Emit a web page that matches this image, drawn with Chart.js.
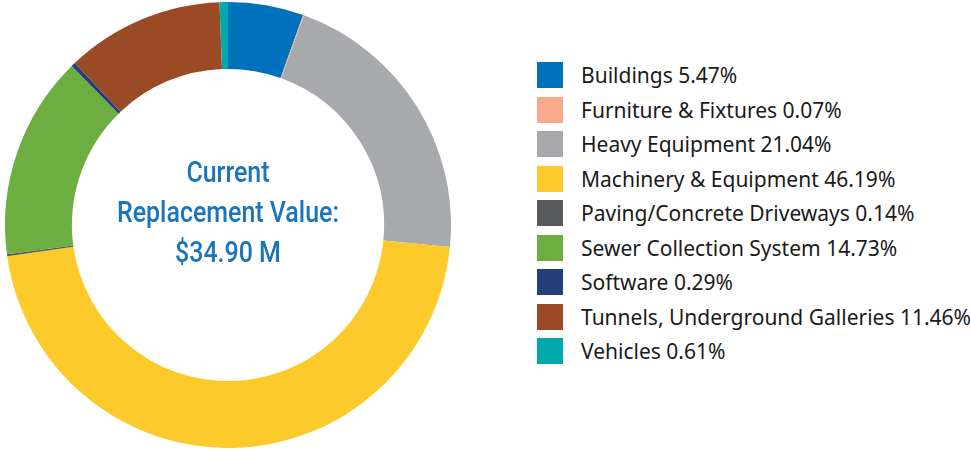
<!DOCTYPE html>
<html>
<head>
<meta charset="utf-8">
<script src="https://cdn.jsdelivr.net/npm/chart.js@4.4.1/dist/chart.umd.min.js"></script>
<style>
  html, body { margin: 0; padding: 0; background: #fff; }
  body { width: 971px; height: 449px; position: relative; overflow: hidden; }
  #wrap { position: absolute; left: 0; top: 0; width: 456px; height: 449px; }
  #legend { position: absolute; left: 537px; top: 62px; margin: 0; padding: 0; list-style: none;
            font-family: "Noto Sans", "Open Sans", sans-serif; font-size: 21px; color: #1a1a1a; }
  #legend li { height: 26px; margin-bottom: 8.5px; display: flex; align-items: center; white-space: nowrap; }
  #legend .box { width: 26px; height: 26px; margin-right: 18px; flex: none; }
</style>
</head>
<body>
<div id="wrap"><canvas id="chart"></canvas></div>
<ul id="legend"></ul>
<script>
const categories = ['Buildings', 'Furniture & Fixtures', 'Heavy Equipment', 'Machinery & Equipment',
  'Paving/Concrete Driveways', 'Sewer Collection System', 'Software',
  'Tunnels, Underground Galleries', 'Vehicles'];
const shares = [5.47, 0.07, 21.04, 46.19, 0.14, 14.73, 0.29, 11.46, 0.61];
const colors = ['#0072bc', '#f9a98b', '#a7a9ac', '#fdca2b', '#58595b', '#6dae43', '#253f7a', '#9a4a24', '#00a9ad'];
const centerLines = ['Current', 'Replacement Value:', '$34.90 M'];

// texte au centre (police étroite simulée)
const centerText = {
  id: 'centerText',
  afterDraw(chart) {
    const meta = chart.getDatasetMeta(0);
    if (!meta.data.length) return;
    const { x, y } = meta.data[0];
    const ctx = chart.ctx;
    ctx.save();
    ctx.font = '500 30px Roboto, "Liberation Sans", sans-serif';
    const widest = Math.max(...centerLines.map(t => ctx.measureText(t).width));
    ctx.translate(x, y);
    ctx.scale(222 / widest, 1);
    ctx.fillStyle = '#1b75bb';
    ctx.textAlign = 'center';
    ctx.textBaseline = 'middle';
    centerLines.forEach((t, i) => ctx.fillText(t, 0, -51 + i * 40));
    ctx.restore();
  }
};

const chart = new Chart(document.getElementById('chart'), {
  type: 'doughnut',
  data: {
    labels: categories,
    datasets: [{ data: shares, backgroundColor: colors, borderWidth: 0 }]
  },
  options: {
    responsive: true,
    maintainAspectRatio: false,
    animation: false,
    cutout: '70%',
    layout: { padding: { top: 2, bottom: 1 } },
    plugins: {
      legend: { display: false },
      tooltip: { enabled: false }
    }
  },
  plugins: [centerText]
});

// légende HTML
const legendEl = document.getElementById('legend');
chart.options.plugins.legend.labels.generateLabels(chart).forEach((item, i) => {
  const li = document.createElement('li');
  const box = document.createElement('span');
  box.className = 'box';
  box.style.background = item.fillStyle;
  li.appendChild(box);
  li.appendChild(document.createTextNode(item.text + ' ' + shares[i].toFixed(2) + '%'));
  legendEl.appendChild(li);
});
</script>
</body>
</html>
